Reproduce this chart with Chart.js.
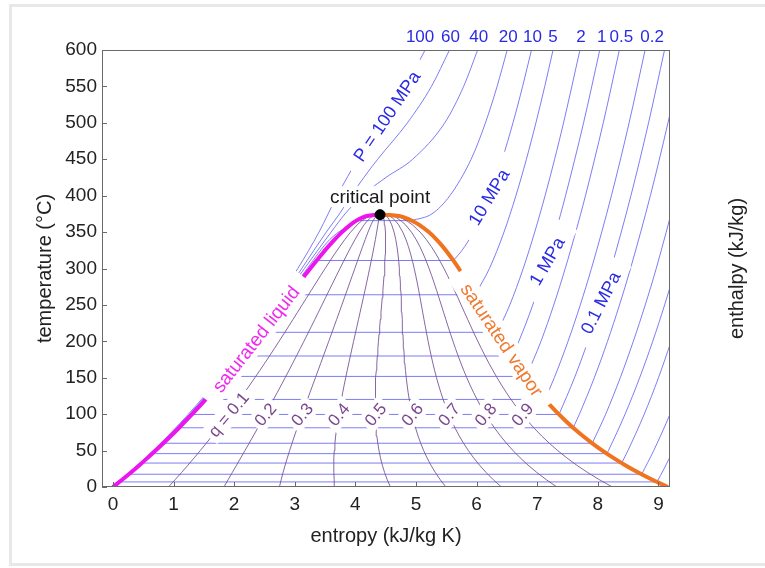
<!DOCTYPE html>
<html>
<head>
<meta charset="utf-8">
<title>T-s diagram for water</title>
<script src="https://cdn.jsdelivr.net/npm/chart.js@4.4.1/dist/chart.umd.min.js"></script>
<style>
  html, body { margin: 0; padding: 0; background: #fff; }
  #frame { position: absolute; left: 9px; top: 4px; width: 770px; height: 562px; border: 3px solid #e8e8e8; box-sizing: border-box; }
  #wrap { position: absolute; left: 0; top: 0; width: 765px; height: 568px; }
</style>
</head>
<body>
<div id="frame"></div>
<div id="wrap"><canvas id="tsChart" width="765" height="568"></canvas></div>
<script>
// saturation dome: temperature (°C), entropy of liquid / vapour (kJ/kg K)
const satT = [0.01, 10, 20, 30, 40, 50, 60, 70, 80, 90, 100, 110, 120, 130, 140, 150, 160, 170, 180, 190,
  200, 210, 220, 230, 240, 250, 260, 270, 280, 290, 300, 310, 320, 330, 340, 350, 360, 365, 370, 372, 373.5, 373.95];
const satLiquid = [0, 0.1511, 0.2965, 0.4368, 0.5724, 0.7038, 0.8313, 0.9551, 1.0756, 1.1929, 1.3072, 1.4188, 1.5279,
  1.6346, 1.7392, 1.8418, 1.9426, 2.0417, 2.1392, 2.2355, 2.3305, 2.4245, 2.5177, 2.6101, 2.7020, 2.7935, 2.8849,
  2.9765, 3.0685, 3.1612, 3.2552, 3.3510, 3.4494, 3.5518, 3.6601, 3.7784, 3.9167, 4.0030, 4.1142, 4.190, 4.300, 4.407];
const satVapor = [9.1556, 8.8999, 8.6661, 8.4520, 8.2556, 8.0748, 7.9083, 7.7540, 7.6111, 7.4781, 7.3541, 7.2380,
  7.1291, 7.0264, 6.9293, 6.8371, 6.7491, 6.6650, 6.5840, 6.5059, 6.4302, 6.3563, 6.2840, 6.2128, 6.1423, 6.0721,
  6.0016, 5.9304, 5.8579, 5.7834, 5.7059, 5.6244, 5.5372, 5.4422, 5.3356, 5.2110, 5.0536, 4.9493, 4.8144, 4.720, 4.540, 4.407];

const criticalS = 4.407;
const criticalT = 373.95;

const qualities = [0.1, 0.2, 0.3, 0.4, 0.5, 0.6, 0.7, 0.8, 0.9];

// isobars as [T, s] pairs, cold liquid -> two-phase -> superheated
const iso100 = [[0, 0], [50, 0.665], [100, 1.245], [150, 1.76], [200, 2.235], [250, 2.655], [300, 3.05], [350, 3.40],
  [400, 3.70], [450, 4.04], [500, 4.45], [550, 4.83], [600, 5.15]];
const iso60 = [[0, 0], [50, 0.675], [100, 1.265], [150, 1.785], [200, 2.268], [250, 2.71], [300, 3.115], [350, 3.52],
  [375, 3.737], [400, 3.9316], [425, 4.1401], [450, 4.368], [500, 4.858], [550, 5.2546], [600, 5.5523]];
const iso40 = [[0, 0], [50, 0.685], [100, 1.278], [150, 1.80], [200, 2.283], [250, 2.726], [300, 3.16], [350, 3.60],
  [375, 3.829], [400, 4.1145], [425, 4.5044], [450, 4.9449], [500, 5.4744], [550, 5.7857], [600, 6.017]];
const iso20 = [[0, 0], [50, 0.697], [100, 1.295], [150, 1.824], [200, 2.311], [250, 2.77], [300, 3.205], [340, 3.58],
  [365.75, 4.0146], [365.75, 4.9277], [375, 5.262], [400, 5.5585], [450, 5.9089], [500, 6.1456], [550, 6.3374], [600, 6.5043]];
const iso10 = [[311.0, 3.3603], [311.0, 5.6159], [325, 5.7596], [350, 5.946], [400, 6.2141], [450, 6.4219], [500, 6.5995],
  [550, 6.7585], [600, 6.9045]];
const iso5 = [[263.94, 2.9207], [263.94, 5.9737], [300, 6.211], [350, 6.4516], [400, 6.6483], [450, 6.821], [500, 6.9781],
  [550, 7.1237], [600, 7.2605]];
const iso2 = [[212.38, 2.4467], [212.38, 6.339], [250, 6.5475], [300, 6.7684], [350, 6.9583], [400, 7.1292], [450, 7.2866],
  [500, 7.4337], [600, 7.7043]];
const iso1 = [[179.88, 2.1381], [179.88, 6.585], [200, 6.6956], [250, 6.9265], [300, 7.1246], [350, 7.3029], [400, 7.467],
  [500, 7.7642], [600, 8.0311]];
const iso05 = [[151.83, 1.8604], [151.83, 6.8207], [200, 7.0611], [250, 7.2726], [300, 7.4614], [350, 7.6346], [400, 7.7956],
  [500, 8.0893], [600, 8.3544]];
const iso02 = [[120.21, 1.5302], [120.21, 7.127], [150, 7.281], [200, 7.5081], [250, 7.71], [300, 7.8941], [400, 8.2236],
  [500, 8.5153], [600, 8.7793]];
const iso01 = [[99.61, 1.3028], [99.61, 7.3589], [150, 7.6148], [200, 7.8356], [250, 8.0346], [300, 8.2172], [400, 8.5452],
  [500, 8.8362], [600, 9.0999]];
const iso005 = [[81.32, 1.0912], [81.32, 7.5931], [100, 7.6953], [150, 7.9413], [200, 8.1592], [250, 8.3568], [300, 8.5386],
  [400, 8.8658], [500, 9.1565], [600, 9.42]];
const iso002 = [[60.06, 0.832], [60.06, 7.9073], [100, 8.129], [150, 8.3693], [200, 8.585], [250, 8.7816], [300, 8.9628],
  [400, 9.2874]];
const iso001 = [[45.81, 0.6492], [45.81, 8.1488], [50, 8.1741], [100, 8.4489], [150, 8.6892], [200, 8.9049], [250, 9.1015],
  [300, 9.2827]];
const iso0005 = [[32.87, 0.4762], [32.87, 8.3938], [50, 8.496], [100, 8.765], [150, 9.0], [200, 9.209]];
const iso0002 = [[17.5, 0.2606], [17.5, 8.7227], [50, 8.921], [100, 9.19], [150, 9.426]];
const iso0001 = [[6.97, 0.1059], [6.97, 8.9749], [25, 9.092], [50, 9.242]];

const isobars = [iso100, iso60, iso40, iso20, iso10, iso5, iso2, iso1, iso05, iso02, iso01,
  iso005, iso002, iso001, iso0005, iso0002, iso0001];

// pressure labels along the top edge (MPa)
const topLabels = ['100', '60', '40', '20', '10', '5', '2', '1', '0.5', '0.2'];
const topLines = [iso100, iso60, iso40, iso20, iso10, iso5, iso2, iso1, iso05, iso02];
const topNudge = [-5, 1, 1, 1, 1, 0, 1, 2, 2, 7];   // px, keeps the crowded numbers apart

const FONT = "'Liberation Sans', Arial, Helvetica, sans-serif";
const isoColor = 'rgba(96, 96, 242, 0.82)';
const qualityColor = 'rgba(112, 76, 146, 0.85)';
const blue = '#2a2ae4';

Chart.defaults.font.family = FONT;
Chart.defaults.color = '#222';

// entropy on a curve at a given temperature (searching from the hot end)
function sAt(Ts, Ss, T) {
  for (let i = Ts.length - 2; i >= 0; i--) {
    const a = Ts[i], b = Ts[i + 1];
    if (b > a && T >= a && T <= b) return Ss[i] + (Ss[i + 1] - Ss[i]) * (T - a) / (b - a);
  }
  return Ss[Ss.length - 1];
}
const isoS = (pts, T) => sAt(pts.map(p => p[0]), pts.map(p => p[1]), T);
const qualityS = (q, T) => {
  const f = sAt(satT, satLiquid, T), g = sAt(satT, satVapor, T);
  return f + q * (g - f);
};

// split off the flat two-phase piece so the spline keeps the kinks
function isobarParts(pts) {
  const parts = [];
  let cur = [pts[0]];
  for (let i = 1; i < pts.length; i++) {
    if (pts[i][0] === pts[i - 1][0]) {
      if (cur.length > 1) parts.push(cur);
      parts.push([pts[i - 1], pts[i]]);
      cur = [pts[i]];
    } else {
      cur.push(pts[i]);
    }
  }
  if (cur.length > 1) parts.push(cur);
  return parts;
}

const line = (data, color, width, extra) => Object.assign({
  data: data, showLine: true, borderColor: color, backgroundColor: color,
  borderWidth: width, pointRadius: 0, pointHoverRadius: 0, tension: 0
}, extra || {});

const datasets = [];
datasets.push({
  data: [{x: criticalS, y: criticalT}], pointRadius: 5, pointBackgroundColor: '#000',
  pointBorderColor: '#000', showLine: false
});
datasets.push(line(satT.map((T, i) => ({x: satLiquid[i], y: T})), '#ee14ee', 4, {cubicInterpolationMode: 'monotone', borderCapStyle: 'butt'}));
datasets.push(line(satT.map((T, i) => ({x: satVapor[i], y: T})).reverse(), '#f0741f', 4, {cubicInterpolationMode: 'monotone', borderCapStyle: 'butt'}));
qualities.forEach(q => {
  datasets.push(line(satT.map(T => ({x: qualityS(q, T), y: T})), qualityColor, 1));
});
isobars.forEach(pts => {
  isobarParts(pts).forEach(part => {
    datasets.push(line(part.map(([T, s]) => ({x: s, y: T})), isoColor, 1, {cubicInterpolationMode: 'monotone'}));
  });
});

// text set on top of the lines, with a white box that breaks the line underneath
const tags = [
  {text: 'saturated liquid', s: () => sAt(satT, satLiquid, 203), T: 203, angle: -52, size: 19, color: '#f02af0', padX: 14},
  {text: 'saturated vapor', s: () => sAt(satT, satVapor, 202), T: 202, angle: 56, size: 19, color: '#f07a32', padX: 14},
  {text: 'P = 100 MPa', s: () => isoS(iso100, 509), T: 509, angle: -56, size: 18, color: blue, padX: 13},
  {text: '10 MPa', s: () => isoS(iso10, 398), T: 398, angle: -59, size: 18, color: blue, padX: 16},
  {text: '1 MPa', s: () => isoS(iso1, 310), T: 310, angle: -60, size: 18, color: blue, padX: 16},
  {text: '0.1 MPa', s: () => isoS(iso01, 253), T: 253, angle: -63, size: 18, color: blue, padX: 13}
];
qualities.forEach((q, i) => {
  tags.push({text: (i === 0 ? 'q = ' : '') + q, s: () => qualityS(q, 99.61), T: 99.61, angle: -50,
    size: 17, color: '#7a468e', padX: 4});
});

function drawTag(ctx, x, y, t) {
  ctx.save();
  ctx.translate(x, y);
  ctx.rotate(t.angle * Math.PI / 180);
  ctx.font = t.size + 'px ' + FONT;
  const w = ctx.measureText(t.text).width;
  const padY = t.padY === undefined ? 2 : t.padY;
  ctx.fillStyle = '#fff';
  ctx.fillRect(-w / 2 - t.padX, -t.size / 2 - padY, w + 2 * t.padX, t.size + 2 * padY);
  ctx.fillStyle = t.color;
  ctx.textAlign = 'center';
  ctx.textBaseline = 'middle';
  ctx.fillText(t.text, 0, 1);
  ctx.restore();
}

const overlay = {
  id: 'overlay',
  afterDatasetsDraw(chart) {
    const {ctx, chartArea: a, scales: {x, y}} = chart;
    ctx.save();
    ctx.beginPath();
    ctx.rect(a.left, a.top, a.right - a.left, a.bottom - a.top);
    ctx.clip();
    tags.forEach(t => drawTag(ctx, x.getPixelForValue(t.s()), y.getPixelForValue(t.T), t));
    ctx.restore();

    drawTag(ctx, x.getPixelForValue(criticalS), y.getPixelForValue(criticalT) - 18,
      {text: 'critical point', angle: 0, size: 19, color: '#1a1a1a', padX: 3, padY: 1});

    // box and inward ticks
    ctx.save();
    ctx.strokeStyle = '#6a6a6a';
    ctx.lineWidth = 1;
    ctx.strokeRect(Math.round(a.left) + 0.5, Math.round(a.top) + 0.5,
      Math.round(a.right - a.left) - 1, Math.round(a.bottom - a.top) - 1);
    ctx.beginPath();
    x.ticks.forEach(t => {
      const px = Math.round(x.getPixelForValue(t.value)) + 0.5;
      ctx.moveTo(px, a.bottom); ctx.lineTo(px, a.bottom - 5);
    });
    y.ticks.forEach(t => {
      const py = Math.round(y.getPixelForValue(t.value)) + 0.5;
      ctx.moveTo(a.left, py); ctx.lineTo(a.left + 5, py);
    });
    ctx.stroke();

    // pressure values where each isobar meets the top edge
    ctx.fillStyle = blue;
    ctx.font = '17px ' + FONT;
    ctx.textAlign = 'center';
    ctx.textBaseline = 'middle';
    topLabels.forEach((lab, i) => {
      const pts = topLines[i];
      ctx.fillText(lab, x.getPixelForValue(pts[pts.length - 1][1]) + topNudge[i], a.top - 13);
    });

    // enthalpy title on the right
    ctx.fillStyle = '#222';
    ctx.font = '20px ' + FONT;
    ctx.translate(a.right + 67, (a.top + a.bottom) / 2);
    ctx.rotate(-Math.PI / 2);
    ctx.fillText('enthalpy (kJ/kg)', 0, 0);
    ctx.restore();
  }
};

new Chart(document.getElementById('tsChart'), {
  type: 'scatter',
  data: {datasets: datasets},
  options: {
    responsive: false,
    animation: false,
    events: [],
    layout: {padding: {top: 50, right: 95, left: 0, bottom: 0}},
    plugins: {legend: {display: false}, tooltip: {enabled: false}},
    scales: {
      x: {
        type: 'linear', min: -0.18, max: 9.19,
        afterFit: s => { s.height = 81; },
        afterBuildTicks: s => { s.ticks = s.ticks.filter(t => t.value >= 0 && Number.isInteger(t.value)); },
        grid: {display: false, drawTicks: false},
        border: {display: false},
        ticks: {stepSize: 1, includeBounds: false, padding: 6, font: {size: 19}, color: '#222'},
        title: {display: true, text: 'entropy (kJ/kg K)', font: {size: 20}, color: '#222', padding: {top: 0, bottom: 20}}
      },
      y: {
        type: 'linear', min: 0, max: 600,
        afterFit: s => { s.width = 102; },
        grid: {display: false, drawTicks: false},
        border: {display: false},
        ticks: {stepSize: 50, padding: 5, font: {size: 19}, color: '#222'},
        title: {display: true, text: 'temperature (°C)', font: {size: 20}, color: '#222', padding: {top: 33, bottom: 0}}
      }
    }
  },
  plugins: [overlay]
});
</script>
</body>
</html>
